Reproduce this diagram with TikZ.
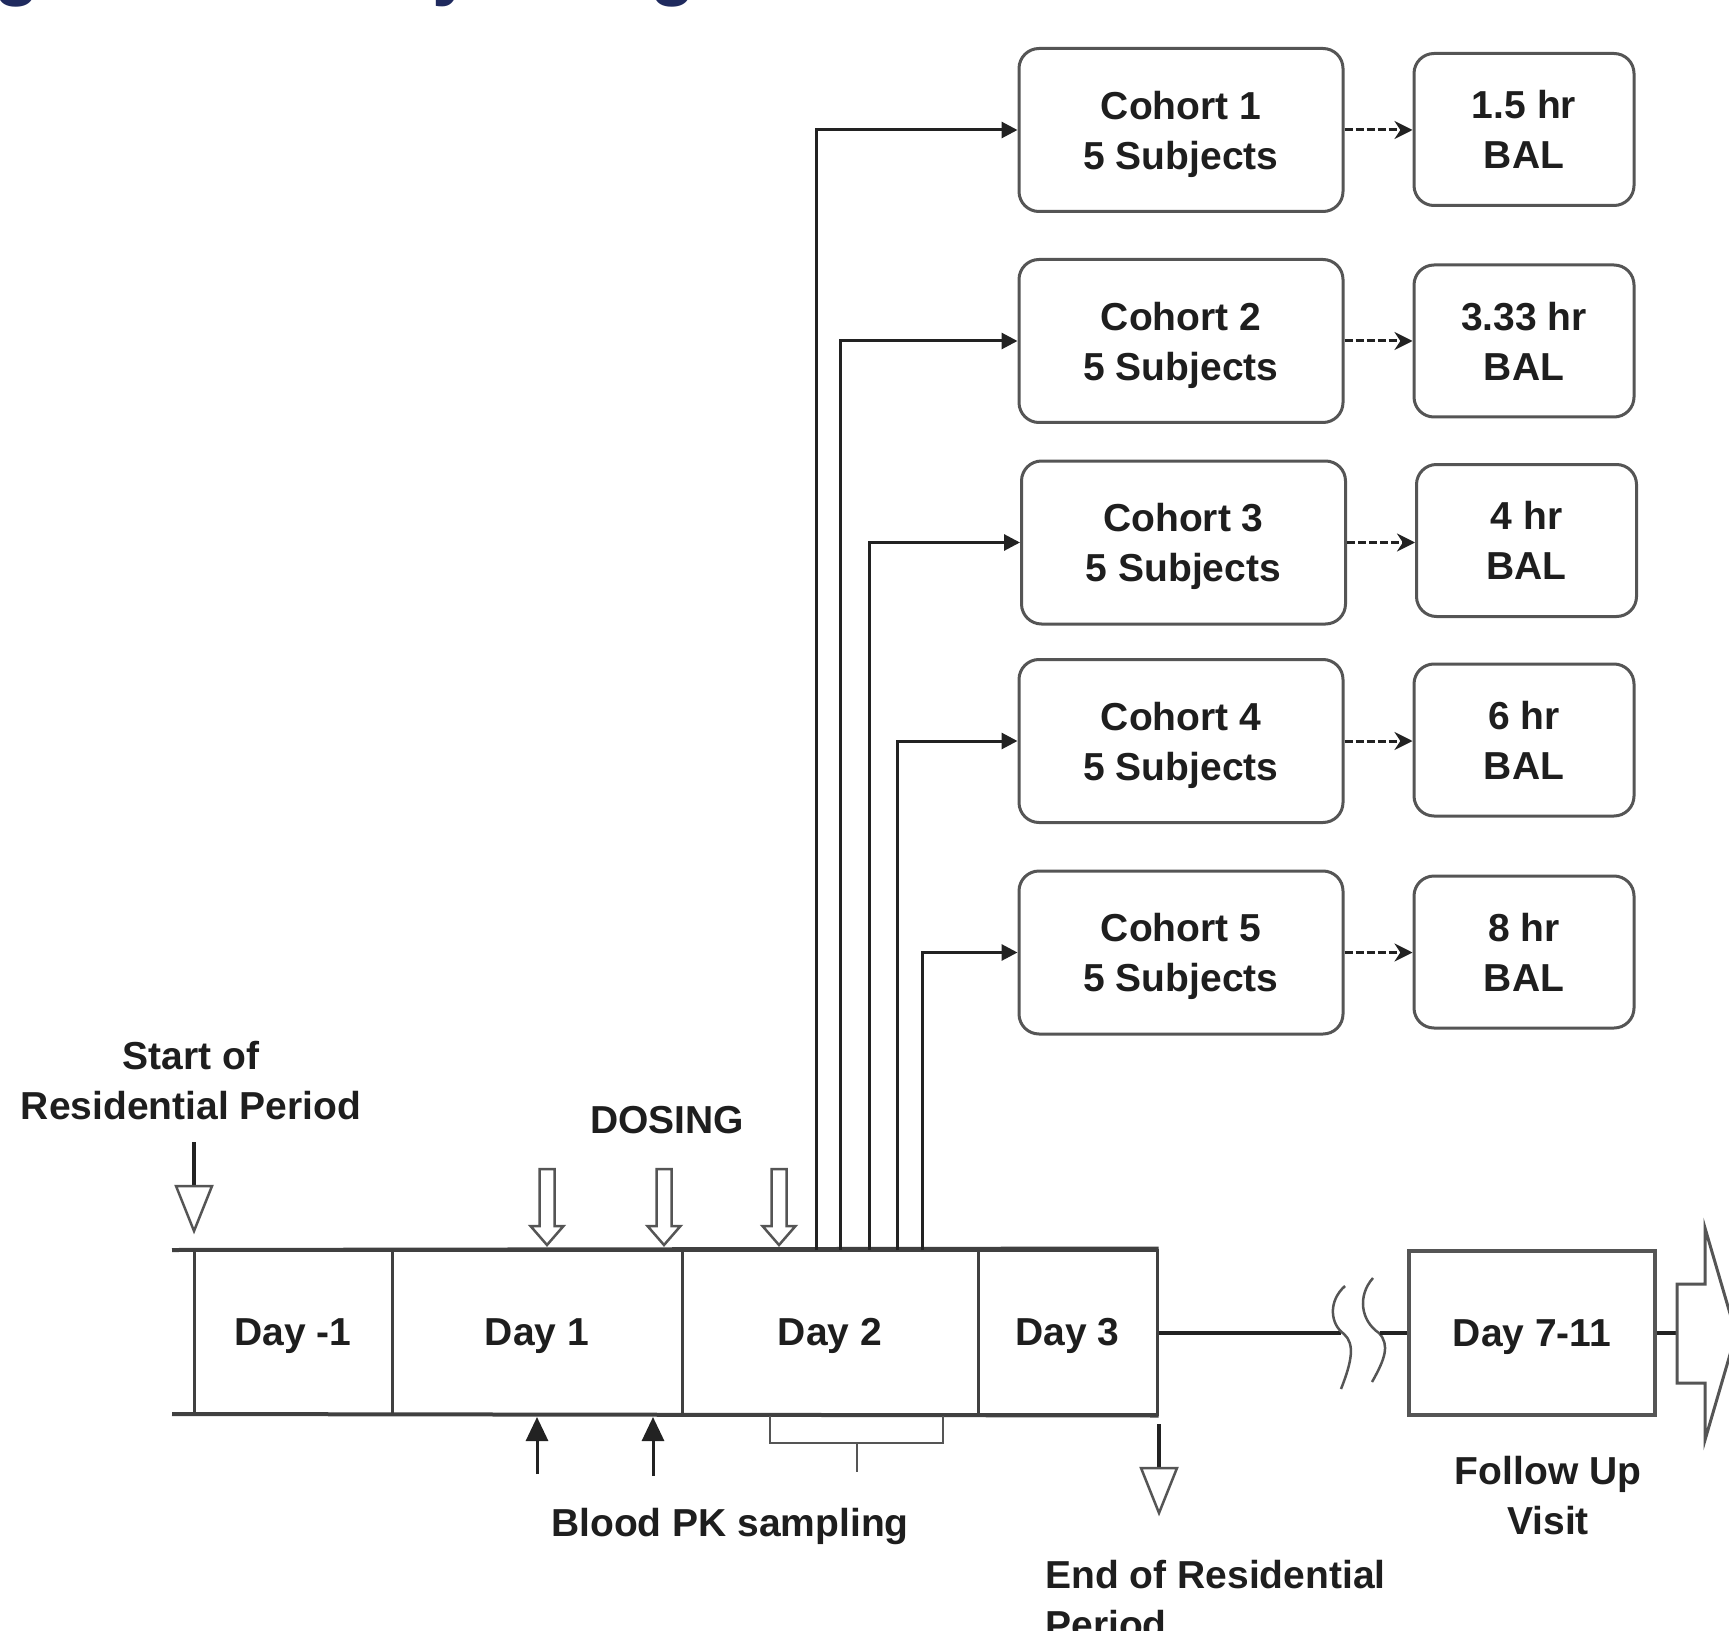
\documentclass[tikz,border=0pt]{standalone}
\usepackage{fontspec}
\setmainfont{Liberation Sans}
\usetikzlibrary{arrows.meta}
\definecolor{textdark}{HTML}{1E1E1E}
\definecolor{boxgray}{HTML}{555555}
\definecolor{linedark}{HTML}{222222}
\definecolor{cellgray}{HTML}{404040}
\definecolor{titlenavy}{HTML}{1F2A5E}
\tikzset{
  dosearrow/.pic={\draw[boxgray, line width=1.25pt, fill=white]
     (-7.5,-76) -- (7.5,-76) -- (7.5,-19) -- (16.5,-19) -- (0,0) -- (-16.5,-19) -- (-7.5,-19) -- cycle;},
  thinarrow/.pic={\draw[linedark, line width=2pt] (0,-89) -- (0,-45);
     \draw[boxgray, line width=1.25pt, fill=white] (-18,-45) -- (18,-45) -- (0,0) -- cycle;}
}
\begin{document}
\begin{tikzpicture}[x=0.5pt,y=-0.5pt,
  every node/.style={font=\fontsize{19.5}{25}\selectfont\bfseries, text=textdark, inner sep=0pt, text depth=0pt},
  roundbox/.style={draw=boxgray, line width=1.5pt, rounded corners=10pt, fill=white, align=center},
  cohortbox/.style={roundbox, minimum width=162pt, minimum height=81.5pt},
  balbox/.style={roundbox, minimum width=110pt, minimum height=76pt},
  daycell/.style={draw=cellgray, line width=1.5pt, minimum height=82pt},
  connector/.style={draw=linedark, line width=1.5pt, -{Triangle[length=8pt,width=8pt]}},
  dasharrow/.style={draw=linedark, line width=1.5pt, dash pattern=on 4pt off 1.5pt, -{Stealth[length=9pt,width=9pt]}},
  timeline/.style={draw=cellgray, line width=2pt},
  thickline/.style={draw=linedark, line width=2.25pt},
  breakline/.style={draw=boxgray, line width=1.25pt},
  pkarrow/.style={draw=linedark, line width=1.5pt, -{Triangle[length=12pt,width=11pt]}},
  pkbracket/.style={draw=boxgray, line width=1.25pt},
  twoline/.style={align=center}
]
\useasboundingbox (0,0) rectangle (1729,1631);
\clip (0,0) rectangle (1729,1631);

% cut-off title (only descenders visible)
\node[anchor=base west, font=\fontsize{37}{40}\selectfont\bfseries, text=titlenavy] (title) at (-72,-8.5) {Figure 1: Study Design};

% cohort boxes
\node[cohortbox] (c1) at (1181,130) {Cohort 1\\5 Subjects};
\node[cohortbox] (c2) at (1181,341) {Cohort 2\\5 Subjects};
\node[cohortbox] (c3) at (1183.5,542.5) {Cohort 3\\5 Subjects};
\node[cohortbox] (c4) at (1181,741) {Cohort 4\\5 Subjects};
\node[cohortbox] (c5) at (1181,952.5) {Cohort 5\\5 Subjects};

% BAL boxes
\node[balbox] (b1) at (1524,129.5) {1.5 hr\\BAL};
\node[balbox] (b2) at (1524,341) {3.33 hr\\BAL};
\node[balbox] (b3) at (1526.5,540.5) {4 hr\\BAL};
\node[balbox] (b4) at (1524,740) {6 hr\\BAL};
\node[balbox] (b5) at (1524,952) {8 hr\\BAL};

% timeline cells
\node[daycell, minimum width=99pt] (d0) at (293,1332) {Day -1};
\node[daycell, minimum width=145pt] (d1) at (537,1332) {Day 1};
\node[daycell, minimum width=148pt] (d2) at (830,1332) {Day 2};
\node[daycell, minimum width=89.5pt] (d3) at (1067.5,1332) {Day 3};
\node[daycell, draw=boxgray, line width=1.75pt, minimum width=123pt] (d7) at (1532,1333) {Day 7-11};

\coordinate (tl) at (172,1250);
\coordinate (bl) at (172,1414);
\draw[timeline] (tl) -- (d3.north east);
\draw[timeline] (bl) -- (d3.south east);

% connectors from Day 2 to cohorts
\coordinate (s1) at (816,1250);
\coordinate (s2) at (840,1250);
\coordinate (s3) at (869,1250);
\coordinate (s4) at (897,1250);
\coordinate (s5) at (922,1250);
\draw[connector] (s1) |- (c1.west);
\draw[connector] (s2) |- (c2.west);
\draw[connector] (s3) |- (c3.west);
\draw[connector] (s4) |- (c4.west);
\draw[connector] (s5) |- (c5.west);

% dashed arrows to BAL
\draw[dasharrow] (c1.east) -- (c1.east -| b1.west);
\draw[dasharrow] (c2.east) -- (c2.east -| b2.west);
\draw[dasharrow] (c3.east) -- (c3.east -| b3.west);
\draw[dasharrow] (c4.east) -- (c4.east -| b4.west);
\draw[dasharrow] (c5.east) -- (c5.east -| b5.west);

% labels
\node[twoline] (startlbl) at (191,1080.5) {Start of\\Residential Period};
\node (dosing) at (667,1120) {DOSING};
\node (pklbl) at (730,1522) {Blood PK sampling};
\node[twoline] (fulbl) at (1548,1495.5) {Follow Up\\Visit};
\node[align=left, anchor=west] (endlbl) at (1045,1599) {End of Residential\\Period};

% hollow arrows
\pic at (194,1231) {thinarrow};
\pic at (547,1245) {dosearrow};
\pic at (664,1245) {dosearrow};
\pic at (779,1245) {dosearrow};
\pic at (1159,1513) {thinarrow};

% blood PK arrows and bracket
\coordinate (pk1) at (537,1474);
\coordinate (pk1t) at (537,1417);
\coordinate (pk2) at (653,1476);
\coordinate (pk2t) at (653,1417);
\draw[pkarrow] (pk1) -- (pk1t);
\draw[pkarrow] (pk2) -- (pk2t);
\draw[pkbracket] (770,1416) -- (770,1443) -- (943,1443) -- (943,1416);
\draw[pkbracket] (857,1443) -- (857,1472);

% break between Day 3 and Day 7-11
\coordinate (brk1) at (1341,1333);
\coordinate (brk2) at (1380,1333);
\draw[thickline] (d3.east |- brk1) -- (brk1);
\draw[breakline] (1345,1286) .. controls (1328,1301) and (1330,1324) .. (1344,1334)
   .. controls (1355,1344) and (1352,1361) .. (1341,1389);
\draw[breakline] (1373,1278) .. controls (1357,1296) and (1361,1321) .. (1379,1333)
   .. controls (1390,1345) and (1385,1359) .. (1372,1382);
\draw[thickline] (brk2) -- (d7.west);

% final block arrow
\coordinate (fa) at (1677,1333);
\draw[thickline] (d7.east) -- (fa);
\draw[boxgray, line width=1.5pt, fill=white] (1677,1284) -- (1705,1284) -- (1705,1228) -- (1736,1334)
   -- (1705,1440) -- (1705,1383) -- (1677,1383) -- cycle;
\end{tikzpicture}
\end{document}
